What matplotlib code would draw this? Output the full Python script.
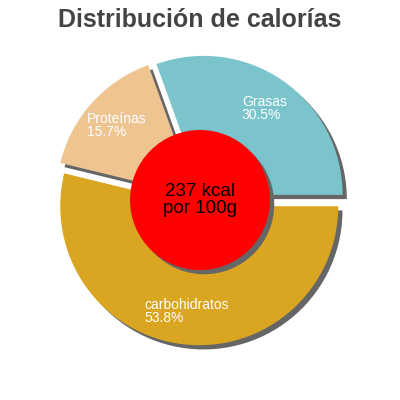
import numpy as np
import matplotlib.pyplot as plt
from matplotlib.patches import Circle, Shadow

plt.rcParams['font.family'] = ['Liberation Sans', 'DejaVu Sans']

labels = ["Grasas", "Proteínas", "carbohidratos"]
percents = [30.5, 15.7, 53.8]
colors = ["#7bc4cc", "#eec591", "#daa520"]
total_kcal = "237 kcal\npor 100g"
title = "Distribución de calorías"

R = 139.0  # pie radius in pixels
fig = plt.figure(figsize=(4, 4), dpi=100)
ax = fig.add_axes([0, 0, 1, 1])

expl = 0.045
wedges, _ = ax.pie(percents, colors=colors, startangle=0, counterclock=True,
                   explode=[expl] * 3, radius=1.0,
                   shadow={'ox': 0.022, 'oy': -0.022, 'facecolor': '#666666',
                           'edgecolor': 'none', 'alpha': 1.0},
                   wedgeprops={'linewidth': 0})

# slice labels
for w, lab, p in zip(wedges, labels, percents):
    mid = np.deg2rad((w.theta1 + w.theta2) / 2)
    d = 0.76
    cx, cy = w.center
    ax.text(cx + d * np.cos(mid), cy + d * np.sin(mid), f"{lab}\n{p}%",
            color='white', fontsize=10, ha='center', va='center',
            multialignment='left', linespacing=0.9, zorder=5)

# center circle with shadow
circ = Circle((0, 0), 70 / R, facecolor='#ff0000', edgecolor='none', zorder=4)
ax.add_patch(Shadow(circ, 0.022, -0.022, facecolor='#666666', edgecolor='none',
                    alpha=1.0, zorder=3.9))
ax.add_patch(circ)
ax.text(0, 0.0, total_kcal, ha='center', va='center', fontsize=13.5,
        color='black', linespacing=0.95, zorder=6)

ax.set_xlim(-200 / R, 200 / R)
ax.set_ylim(-200 / R, 200 / R)
ax.set_aspect('equal')
ax.axis('off')

fig.text(0.5, 0.95, title, ha='center', va='center', fontsize=18,
         fontweight='bold', color='#444444')

fig.savefig("out.png", dpi=100)
